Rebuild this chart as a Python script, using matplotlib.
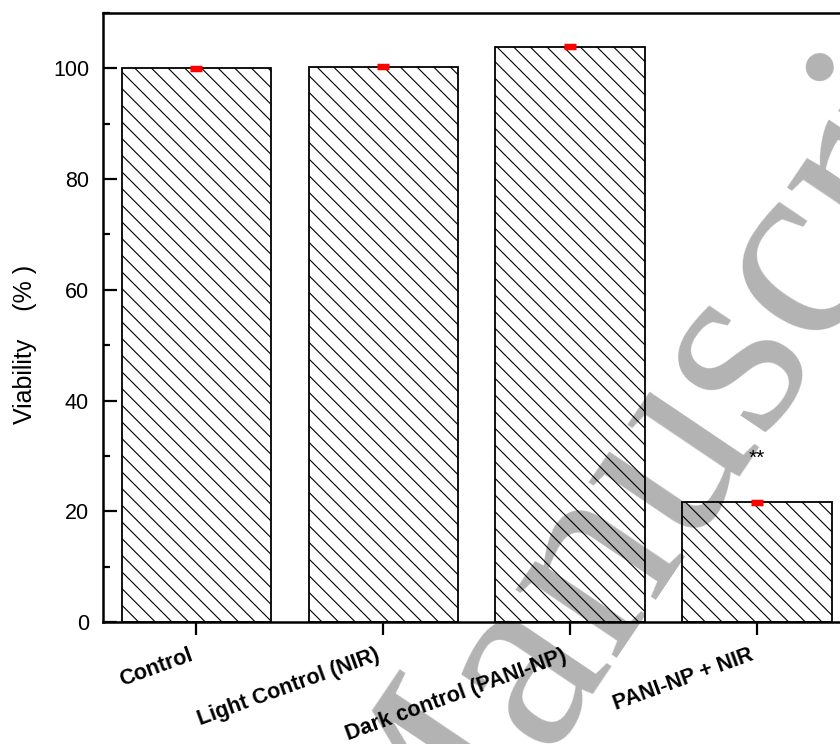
import matplotlib
matplotlib.use('Agg')
import matplotlib.pyplot as plt
import matplotlib.transforms as mtransforms
from matplotlib.ticker import MultipleLocator

# data
groups = ['Control', 'Light Control (NIR)', 'Dark control (PANI-NP)', 'PANI-NP + NIR']
viability = [100.0, 100.3, 103.9, 21.6]
errors = [0.3, 0.3, 0.3, 0.3]
star_label = '**'
star_height = 29.5

plt.rcParams['font.family'] = ['Liberation Sans', 'DejaVu Sans']
plt.rcParams['hatch.linewidth'] = 0.8

fig = plt.figure(figsize=(8.4, 7.44), dpi=100)
ax = fig.add_axes([103 / 840, 1 - 622 / 744, (850.5 - 103) / 840, (622 - 13) / 744])
ax.set_facecolor('none')

# watermark behind everything
fig.text(413 / 840, 1 - 949 / 744, 'Manuscript', fontsize=191, family='Liberation Serif',
         color='#b3b3b3', rotation=56, rotation_mode='anchor',
         ha='left', va='baseline', zorder=-5)

x = list(range(1, len(groups) + 1))
ax.bar(x, viability, width=0.8, facecolor='none', edgecolor='black',
       linewidth=1.3, hatch='\\\\')
ax.errorbar(x, viability, yerr=errors, fmt='none', ecolor='red',
            elinewidth=2, capsize=4, capthick=2.5, zorder=5)
ax.text(4, star_height, star_label, ha='center', va='center', fontsize=15)

ax.set_xlim(0.5, 4.5)
ax.set_ylim(0, 110)
ax.yaxis.set_major_locator(MultipleLocator(20))
ax.yaxis.set_minor_locator(MultipleLocator(10))
ax.set_xticks(x)
ax.tick_params(axis='x', labelbottom=False)

# slanted category labels
lab_tr = ax.get_xaxis_transform() + mtransforms.ScaledTranslation(-8 / 100, -23 / 100, fig.dpi_scale_trans)
for xi, g in zip(x, groups):
    ax.text(xi, 0, g, transform=lab_tr, rotation=20, rotation_mode='anchor',
            ha='right', va='top', fontweight='bold', fontsize=15.5, clip_on=False)

ax.tick_params(axis='y', direction='in', length=10, width=1.6, labelsize=15.5, pad=10)
ax.tick_params(axis='y', which='minor', direction='in', length=5, width=1.6)
ax.tick_params(axis='x', direction='out', length=9, width=1.6)

for s in ['left', 'top', 'bottom', 'right']:
    ax.spines[s].set_linewidth(1.8)

ax.set_ylabel('Viability    (% )', fontsize=18)
ax.yaxis.set_label_coords(-(103 - 37) / 747.5, (622 - 344) / 609)

fig.savefig('out.png', dpi=100)
